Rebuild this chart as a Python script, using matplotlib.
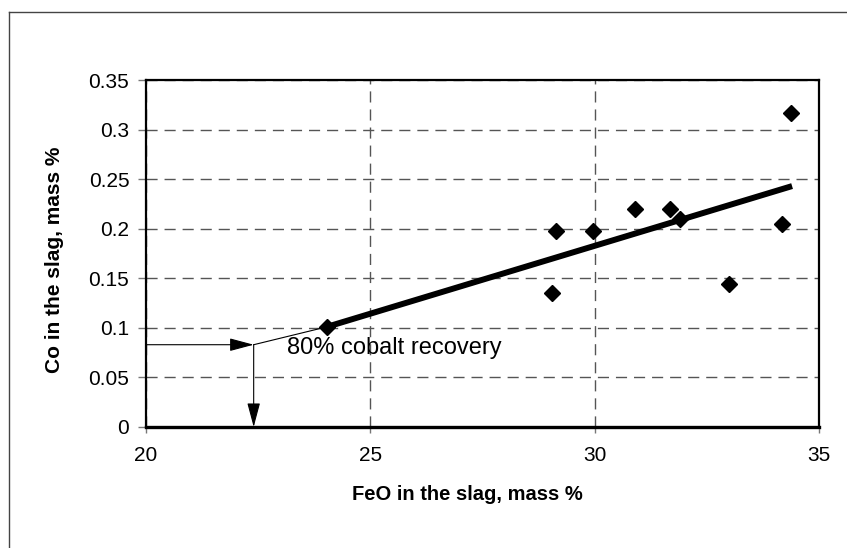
import matplotlib
matplotlib.use("Agg")
import matplotlib.pyplot as plt
from matplotlib.lines import Line2D

plt.rcParams['font.family'] = ['Liberation Sans', 'DejaVu Sans']

# measured points
feo = [24.03, 29.05, 29.14, 29.96, 30.90, 31.68, 31.90, 33.00, 34.18, 34.37]
co = [0.101, 0.135, 0.198, 0.198, 0.220, 0.220, 0.210, 0.144, 0.205, 0.317]

# regression line (thick) and its extrapolation (thin)
fit_x = [24.03, 34.40]
fit_y = [0.101, 0.243]
extra_x = [22.4, 24.03]
extra_y = [0.083, 0.101]

# 80% recovery read-off point
target_feo = 22.4
target_co = 0.083

x_ticks = [20, 25, 30, 35]
y_ticks = [0, 0.05, 0.1, 0.15, 0.2, 0.25, 0.3, 0.35]
y_labels = ['0', '0.05', '0.1', '0.15', '0.2', '0.25', '0.3', '0.35']

fig = plt.figure(figsize=(8.47, 5.48), dpi=100)
ax = fig.add_axes([146 / 847, 1 - 427 / 548, (819 - 146) / 847, (427 - 80) / 548])

# page border (top and left)
fig.add_artist(Line2D([9 / 847, 1.0], [1 - 12 / 548, 1 - 12 / 548],
                      transform=fig.transFigure, color='#444444', lw=1))
fig.add_artist(Line2D([9 / 847, 9 / 847], [0.0, 1 - 12 / 548],
                      transform=fig.transFigure, color='#444444', lw=1))

ax.set_xlim(20, 35)
ax.set_ylim(0, 0.35)
ax.set_xticks(x_ticks)
ax.set_yticks(y_ticks)
ax.set_yticklabels(y_labels)
ax.tick_params(axis='y', length=6, width=1, color='#777777', pad=6, labelsize=15)
ax.tick_params(axis='x', length=4, width=1, color='#777777', pad=10, labelsize=15)

ax.grid(True, color='#555555', lw=1, ls=(0, (8, 5)))
ax.set_axisbelow(True)
for side, w in [('left', 1.6), ('right', 1.6), ('top', 1.6), ('bottom', 2.4)]:
    ax.spines[side].set_linewidth(w)
    ax.spines[side].set_color('black')

ax.plot(extra_x, extra_y, color='black', lw=0.8)
ax.plot(fit_x, fit_y, color='black', lw=4.3, solid_capstyle='butt')
ax.plot(feo, co, 'D', color='black', ms=8.5, mew=1, zorder=5)

arrow = dict(arrowstyle='-|>,head_length=1.5,head_width=0.4', color='black',
             lw=0.8, shrinkA=0, shrinkB=0)
ax.annotate('', xy=(target_feo, target_co), xytext=(20, target_co), arrowprops=arrow)
ax.annotate('', xy=(target_feo, 0), xytext=(target_feo, target_co), arrowprops=arrow)

ax.text(23.14, 0.080, '80% cobalt recovery', fontsize=17, va='center', ha='left')

fig.text(467 / 847, 1 - 495 / 548, 'FeO in the slag, mass %', fontsize=14.5,
         fontweight='bold', ha='center', va='center')
fig.text(55 / 847, 1 - 260 / 548, 'Co in the slag, mass %', fontsize=15,
         fontweight='bold', ha='center', va='center', rotation=90)

fig.savefig('out.png', dpi=100)
